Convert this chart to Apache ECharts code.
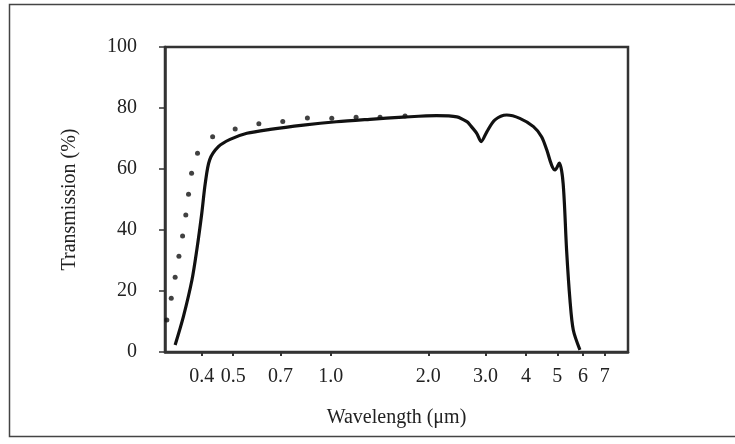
<!DOCTYPE html>
<html>
<head>
<meta charset="utf-8">
<script src="https://cdn.jsdelivr.net/npm/echarts@6/dist/echarts.min.js"></script>
<style>
html,body{margin:0;padding:0;background:#fff;}
#chart{width:735px;height:444px;}
</style>
</head>
<body>
<div id="chart"></div>
<script>
// Solid curve: wavelength (µm) and transmission (%)
const solidWavelength = [0.331,0.351,0.373,0.386,0.400,0.410,0.423,0.450,0.489,0.551,0.650,0.823,1.04,1.32,1.67,2.12,2.45,2.63,2.69,2.82,2.91,3.03,3.21,3.49,3.83,4.22,4.47,4.64,4.80,4.92,5.07,5.21,5.34,5.47,5.60,5.87];
const solidTransmission = [2.3,11.6,23.6,33.4,45.5,55.3,63.0,67.3,69.7,71.7,73.0,74.4,75.5,76.3,77.0,77.5,77.1,75.5,74.4,71.7,69.0,72.2,76.1,77.7,76.6,73.9,70.6,66.2,61.3,59.7,61.9,55.3,33.4,17.0,7.2,0.7];
// Dotted curve
const dotWavelength = [0.312,0.322,0.331,0.340,0.349,0.357,0.364,0.372,0.388,0.432,0.507,0.600,0.711,0.847,1.007,1.197,1.419,1.695];
const dotTransmission = [10.5,17.6,24.5,31.4,38.0,44.9,51.7,58.6,65.2,70.6,73.1,74.8,75.6,76.7,76.6,77.0,77.0,77.4];
// Axis ticks
const xTickValues = [0.4,0.5,0.7,1.0,2.0,3.0,4,5,6,7];
const xTickLabels = ["0.4","0.5","0.7","1.0","2.0","3.0","4","5","6","7"];

const solidData = solidWavelength.map((w,i)=>[w,solidTransmission[i]]);
const dotData = dotWavelength.map((w,i)=>[w,dotTransmission[i]]);

const chart = echarts.init(document.getElementById('chart'), null, {renderer:'canvas'});
const font = '"Liberation Serif","Times New Roman",serif';
chart.setOption({
  animation:false,
  backgroundColor:'#fff',
  graphic:[{
    type:'rect', shape:{x:9.5,y:4.5,width:740,height:432},
    style:{fill:'none',stroke:'#444',lineWidth:1.5}, silent:true, z:-1
  }],
  grid:{left:165,right:107,top:47,bottom:92,show:true,borderColor:'#333',borderWidth:2.5,backgroundColor:'transparent'},
  xAxis:{
    type:'log', logBase:10, min:0.308, max:8.26,
    name:'Wavelength (μm)', nameLocation:'middle', nameGap:56,
    nameTextStyle:{fontFamily:font,fontSize:20,color:'#222'},
    axisLine:{show:true,lineStyle:{color:'#333',width:2.5}},
    axisTick:{show:true,length:4,customValues:xTickValues,lineStyle:{color:'#333',width:2}},
    minorTick:{show:false},
    splitLine:{show:false},
    axisLabel:{customValues:xTickValues,margin:15,fontFamily:font,fontSize:20,color:'#222',
      formatter:(v)=>{const i=xTickValues.findIndex(t=>Math.abs(t-v)<1e-6);return i>=0?xTickLabels[i]:'';}}
  },
  yAxis:{
    type:'value', min:0, max:100, interval:20,
    name:'Transmission (%)', nameLocation:'middle', nameGap:85,
    nameTextStyle:{fontFamily:font,fontSize:20,color:'#222'},
    axisLine:{show:true,lineStyle:{color:'#333',width:2.5}},
    axisTick:{show:true,length:6,lineStyle:{color:'#333',width:1.5}},
    splitLine:{show:false},
    axisLabel:{margin:28,fontFamily:font,fontSize:20,color:'#222'}
  },
  series:[
    {type:'line',data:solidData,smooth:0.3,showSymbol:false,
      lineStyle:{color:'#111',width:3.2},z:3},
    {type:'scatter',data:dotData,symbol:'circle',symbolSize:5,
      itemStyle:{color:'#111'},z:4}
  ]
});
</script>
</body>
</html>
